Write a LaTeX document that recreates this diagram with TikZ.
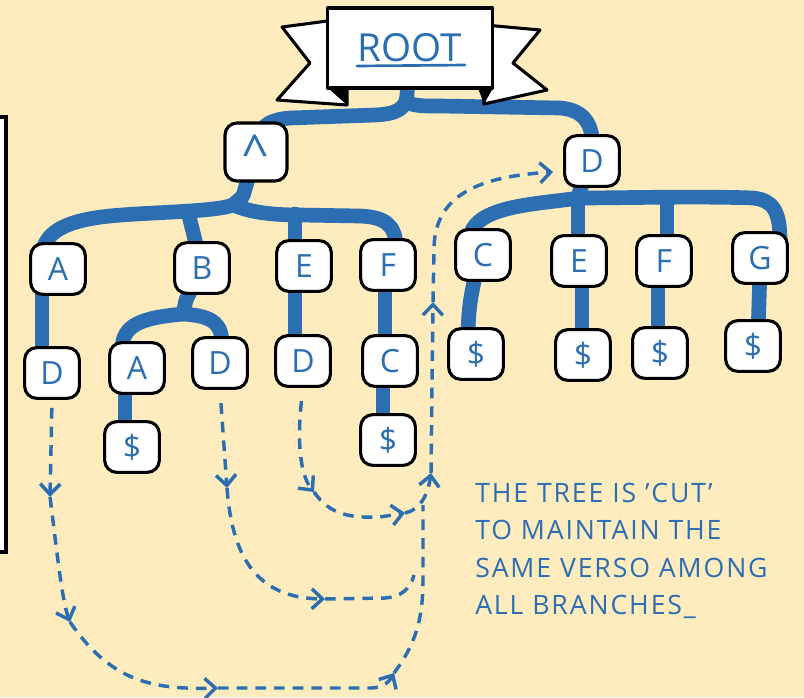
\documentclass[tikz,border=0pt]{standalone}
\usepackage{fontspec}
\setmainfont{Open Sans}
\usetikzlibrary{arrows.meta,calc}
\definecolor{bgc}{HTML}{FEEBBE}
\definecolor{tblue}{HTML}{2B6EB2}
\pgfdeclarelayer{background}
\pgfsetlayers{background,main}
\begin{document}
\begin{tikzpicture}[x=0.75pt,y=-0.75pt,
  tnode/.style={draw=black,line width=2.3pt,fill=white,rounded corners=9pt,
    minimum width=41pt,minimum height=38pt,inner sep=0pt,text=tblue,
    font=\fontsize{24}{24}\selectfont},
  branch/.style={tblue,line width=11pt,line cap=round,line join=round},
  dsh/.style={tblue,line width=2.6pt,dash pattern=on 8pt off 6pt},
  chev/.style={-{Straight Barb[length=8pt,width=15pt]}},
  banner/.style={draw=black,line width=2.3pt,fill=white,line join=round}]
\begin{pgfonlayer}{background}
\fill[bgc] (0,0) rectangle (804,697);
\end{pgfonlayer}
\useasboundingbox (0,0) rectangle (804,697);
% left panel (cut off)
\draw[line width=2.3pt,fill=white] (-10,117) -- (6,117) -- (6,552) -- (-10,552);
% banner tails
\draw[banner] (335,20) -- (282,27) -- (310,63) -- (277,100) -- (347,105) -- (347,88) -- cycle;
\fill[black] (328,88) -- (348,88) -- (347,105) -- cycle;
\draw[banner] (485,25) -- (540,30) -- (513,63) -- (547,90) -- (484,104) -- (484,88) -- cycle;
\fill[black] (478,88) -- (493,88) -- (484,104) -- cycle;
% root
\node[banner,minimum width=123.75pt,minimum height=60pt,inner sep=0pt,text=tblue,
  font=\fontsize{29}{29}\selectfont] (root) at (410,48) {ROOT};
\draw[tblue,line width=2pt,line cap=round] ($(root.center)+(-53,18)$) -- ($(root.center)+(55,17)$);
% nodes
\node[tnode,minimum width=46.5pt,minimum height=43.5pt] (hat) at (256,152)
  {\fontsize{36}{36}\selectfont\raisebox{-0.40em}{\textasciicircum}};
\node[tnode] (dR) at (592,161) {D};
\node[tnode] (a1) at (58,269) {A};
\node[tnode] (b1) at (202,268) {B};
\node[tnode] (e1) at (304,266) {E};
\node[tnode] (f1) at (388,265) {F};
\node[tnode] (d1) at (52,373) {D};
\node[tnode] (a2) at (137,368) {A};
\node[tnode] (d2) at (220,363) {D};
\node[tnode] (d3) at (303,361) {D};
\node[tnode] (c1) at (390,361) {C};
\node[tnode] (s1) at (132,447) {\$};
\node[tnode] (s2) at (388,440) {\$};
\node[tnode] (c2) at (483,255) {C};
\node[tnode] (e2) at (579,261) {E};
\node[tnode] (f2) at (664,261) {F};
\node[tnode] (g2) at (760,258) {G};
\node[tnode] (s3) at (476,354) {\$};
\node[tnode] (s4) at (583,355) {\$};
\node[tnode] (s5) at (660,353) {\$};
\node[tnode] (s6) at (753,346) {\$};
% branches
\begin{pgfonlayer}{background}
\draw[branch] (root.center) -- (407,95) .. controls (406,108) and (398,114) .. (375,115)
  -- (290,118) .. controls (266,120) and (257,128) .. (hat.center);
\draw[branch] (407,100) .. controls (410,106) and (420,106) .. (440,106)
  -- (560,108) .. controls (585,110) and (596,125) .. (dR.center);
\draw[branch] (hat.center) -- (243,196) -- (233,205) .. controls (215,212) and (150,212) .. (110,216)
  .. controls (60,221) and (44,235) .. (42,255) -- (a1.center);
\draw[branch] (188,212) -- (b1.center);
\draw[branch] (233,205) .. controls (250,212) and (270,215) .. (300,215) -- (360,216)
  .. controls (385,217) and (395,225) .. (396,245) -- (f1.center);
\draw[branch] (295,214) -- (295,250);
\draw[branch] (42,280) -- (42,360);
\draw[branch] (b1.center) -- (186,300) -- (183,314) .. controls (140,318) and (122,325) .. (122,350);
\draw[branch] (183,314) .. controls (215,316) and (222,325) .. (222,345);
\draw[branch] (295,280) -- (295,350);
\draw[branch] (385,280) -- (385,350);
\draw[branch] (125,380) -- (125,435);
\draw[branch] (383,375) -- (383,430);
\draw[branch] (dR.center) -- (580,190) -- (578,198) .. controls (540,204) and (485,205) .. (472,230) -- (472,245);
\draw[branch] (578,198) .. controls (620,198) and (700,196) .. (753,198)
  .. controls (772,200) and (780,210) .. (780,240);
\draw[branch] (578,198) -- (578,250);
\draw[branch] (667,198) -- (667,250);
\draw[branch] (478,265) .. controls (472,290) and (468,305) .. (468,340);
\draw[branch] (582,270) -- (582,340);
\draw[branch] (658,270) -- (658,340);
\draw[branch] (760,270) -- (758,335);
\end{pgfonlayer}
% dashed connectors
\coordinate (p1a) at (50,497);
\coordinate (p1b) at (70,622);
\coordinate (p1c) at (218,688);
\coordinate (p1d) at (394,673);
\coordinate (j1) at (423,505);
\draw[dsh,chev,shorten <=6pt] (d1.south) -- (p1a);
\draw[dsh,chev] (p1a) .. controls (58,560) and (62,600) .. (p1b);
\draw[dsh,chev] (p1b) .. controls (110,680) and (150,690) .. (p1c);
\draw[dsh,chev] (p1c) -- (370,688) .. controls (385,688) and (390,680) .. (p1d);
\draw[dsh] (p1d) .. controls (415,645) and (423,620) .. (423,580) -- (j1);
\coordinate (p2a) at (227,488);
\coordinate (p2b) at (325,599);
\coordinate (j2) at (414,575);
\draw[dsh,chev,shorten <=10pt] (d2.south) -- (p2a);
\draw[dsh,chev] (p2a) .. controls (232,555) and (255,598) .. (p2b);
\draw[dsh] (p2b) -- (385,598) .. controls (400,597) and (410,590) .. (j2);
\coordinate (p3a) at (314,492);
\coordinate (p3b) at (405,513);
\coordinate (p3c) at (431,473);
\coordinate (p3d) at (433,302);
\coordinate (tipD) at ($(dR.west)+(-10,11)$);
\draw[dsh,chev,shorten <=10pt] (d3.south) .. controls (297,440) and (300,475) .. (p3a);
\draw[dsh,chev] (p3a) .. controls (330,515) and (350,518) .. (380,517) -- (p3b);
\draw[dsh,chev] (p3b) .. controls (420,510) and (428,495) .. (p3c);
\draw[dsh,chev] (p3c) -- (p3d);
\draw[dsh,chev] (p3d) -- (434,250) .. controls (434,200) and (470,177) .. (tipD);
% note
\node[anchor=north west,align=left,inner sep=0pt,text=tblue,
  font=\fontsize{20}{28}\selectfont\addfontfeatures{LetterSpace=7}] (note) at (475,483)
  {THE TREE IS 'CUT'\\TO MAINTAIN THE\\SAME VERSO AMONG\\ALL BRANCHES\_};
\end{tikzpicture}
\end{document}
